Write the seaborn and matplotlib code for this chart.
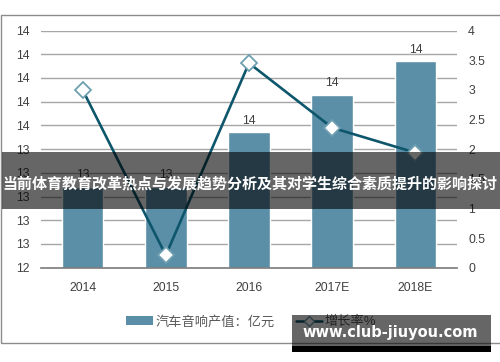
import numpy as np
import matplotlib
matplotlib.use('Agg')
import matplotlib.pyplot as plt
import matplotlib.ticker as mticker
from matplotlib.patches import Rectangle, Patch
from matplotlib.lines import Line2D
import seaborn as sns

# data
years = ['2014', '2015', '2016', '2017E', '2018E']
output_value = [13.08, 13.08, 13.54, 13.86, 14.14]     # 汽车音响产值 (left axis)
output_labels = ['13', '13', '14', '14', '14']
growth_rate = [3.0, 0.21, 3.45, 2.36, 1.94]           # 增长率% (right axis)

left_ticks = [12.4, 12.6, 12.8, 13.0, 13.2, 13.4, 13.6, 13.8, 14.0, 14.2, 14.4]
right_ticks = [0, 0.5, 1, 1.5, 2, 2.5, 3, 3.5, 4]

bar_name = '汽车音响产值：亿元'
line_name = '增长率%'
title = '当前体育教育改革热点与发展趋势分析及其对学生综合素质提升的影响探讨'
watermark = 'www.club-jiuyou.com'

sns.set_theme(style='white')
plt.rcParams['font.family'] = ['Liberation Sans', 'Noto Sans CJK SC', 'DejaVu Sans']

bar_color = '#5b8fa8'
line_color = '#0d566c'
text_color = '#404040'

W, H = 500, 362
fig = plt.figure(figsize=(5, 3.62), dpi=100)


def fx(px):
    return px / W


def fy(py):
    return 1 - py / H


# main axes (bars)
ax = fig.add_axes([fx(41), fy(267.7), 416 / W, 237.2 / H])
sns.barplot(x=years, y=output_value, color=bar_color, width=0.5,
            saturation=1, ax=ax, zorder=2)
ax.bar_label(ax.containers[0], labels=output_labels, padding=4,
             fontsize=8.7, color=text_color)
ax.set_ylim(12.4, 14.4)
ax.set_yticks(left_ticks)
ax.yaxis.set_major_formatter(mticker.FormatStrFormatter('%.0f'))
ax.grid(axis='y', color='#a6a6a6', lw=1)
ax.set_axisbelow(True)
for s in ['left', 'right', 'top']:
    ax.spines[s].set_visible(False)
ax.spines['bottom'].set_color('#808080')
ax.tick_params(axis='y', length=0, pad=8, labelsize=8.8, labelcolor=text_color)
ax.tick_params(axis='x', length=0, pad=10.5, labelsize=8.8, labelcolor=text_color)
ax.set_xlabel('')
ax.set_ylabel('')

# growth rate line on the right axis
ax2 = ax.twinx()
sns.pointplot(x=years, y=growth_rate, ax=ax2, color=line_color, markers='D',
              errorbar=None, markersize=8, linewidth=1.9,
              markerfacecolor='white', markeredgecolor='#6e9fb0',
              markeredgewidth=1.3)
ax2.set_ylim(0, 4)
ax2.set_yticks(right_ticks)
ax2.yaxis.set_major_formatter(mticker.FormatStrFormatter('%g'))
for s in ax2.spines.values():
    s.set_visible(False)
ax2.tick_params(axis='y', length=0, pad=8, labelsize=8.8, labelcolor=text_color)
ax2.set_ylabel('')
ax2.grid(False)
ax.set_xlim(-0.5, 4.5)

# legend
handles = [Patch(fc=bar_color, ec='none'),
           Line2D([], [], color=line_color, marker='D', mfc='white',
                  mec='#6e9fb0', ms=5, lw=1.8)]
fig.legend(handles, [bar_name, line_name], loc='center',
           bbox_to_anchor=(fx(251.5), fy(322)), ncol=2, frameon=False,
           fontsize=9.5, handlelength=2.0, handletextpad=0.2,
           columnspacing=1.6, labelcolor='#595959')

# chart border
fig.add_artist(Rectangle((fx(1), fy(343)), 505 / W, 328 / H, fill=False,
                         ec='#8c8c8c', lw=1, transform=fig.transFigure))

# title banner across the middle
fig.add_artist(Rectangle((fx(2), fy(209)), 498 / W, 57 / H, fc='black',
                         alpha=0.6, ec='none', transform=fig.transFigure,
                         zorder=10))
fig.text(fx(250), fy(183), title, ha='center', va='center', color='white',
         fontsize=10.8, fontweight='bold', family=['Noto Sans CJK SC'],
         zorder=11)

# watermark box
fig.add_artist(Rectangle((fx(292), fy(346)), 199 / W, 31 / H, fc='black',
                         alpha=0.6, ec='none', transform=fig.transFigure,
                         zorder=10))
fig.add_artist(Rectangle((fx(292), fy(352)), 199 / W, 6 / H, fc='black',
                         ec='none', transform=fig.transFigure, zorder=10))
fig.text(fx(390), fy(333), watermark, ha='center', va='center', color='white',
         fontsize=10.5, fontweight='bold', family=['DejaVu Sans'], zorder=11)

fig.savefig('out.png', dpi=100)
